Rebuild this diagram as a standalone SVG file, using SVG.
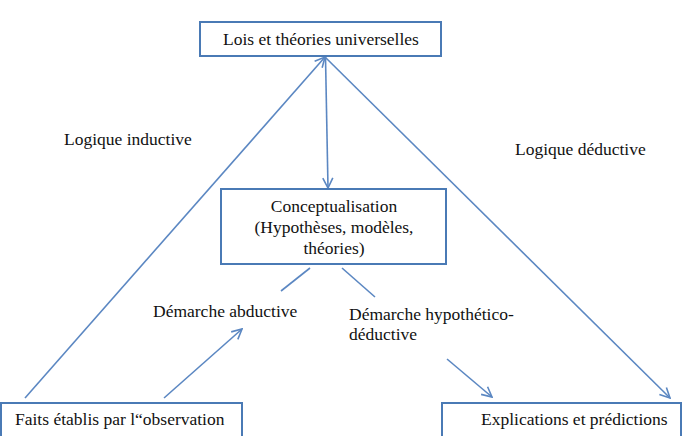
<svg xmlns="http://www.w3.org/2000/svg" width="696" height="436" viewBox="0 0 696 436">
<defs>
<marker id="a" viewBox="0 0 12 12" refX="11" refY="6" markerWidth="12" markerHeight="12" markerUnits="userSpaceOnUse" orient="auto">
<path d="M1,1 L11,6 L1,11" fill="none" stroke="#5b87c2" stroke-width="1.6"/>
</marker>
</defs>
<rect width="696" height="436" fill="#fff"/>
<g id="connectors" fill="none" stroke="#5b87c2" stroke-width="1.6">
<line x1="25" y1="398" x2="325" y2="57" marker-end="url(#a)"/>
<line x1="325" y1="57" x2="670" y2="398" marker-end="url(#a)"/>
<line x1="325.5" y1="57" x2="328" y2="188" marker-end="url(#a)"/>
<line x1="310" y1="268" x2="281" y2="291"/>
<line x1="342" y1="268" x2="375" y2="297"/>
<line x1="164" y1="398" x2="242" y2="329" marker-end="url(#a)"/>
<line x1="447" y1="359" x2="492" y2="397" marker-end="url(#a)"/>
</g>
<g font-family="Liberation Serif" font-size="17.5" fill="#111">
<g id="lois">
<rect x="200" y="22" width="241" height="34" fill="#fff" stroke="#4a7ab5" stroke-width="2"/>
<text x="321" y="45" text-anchor="middle">Lois et théories universelles</text>
</g>
<g id="conceptualisation">
<rect x="221" y="189" width="225" height="75" fill="#fff" stroke="#4a7ab5" stroke-width="2"/>
<text x="334" y="212" text-anchor="middle">Conceptualisation</text>
<text x="334" y="233" text-anchor="middle">(Hypothèses, modèles,</text>
<text x="334" y="254" text-anchor="middle">théories)</text>
</g>
<g id="faits">
<rect x="1" y="403" width="241" height="45" fill="#fff" stroke="#4a7ab5" stroke-width="2"/>
<text x="15" y="425">Faits établis par l“observation</text>
</g>
<g id="explications">
<rect x="442" y="403" width="239" height="45" fill="#fff" stroke="#4a7ab5" stroke-width="2"/>
<text x="481" y="425">Explications et prédictions</text>
</g>
<g id="labels">
<text x="64" y="145">Logique inductive</text>
<text x="515" y="155">Logique déductive</text>
<text x="153" y="317">Démarche abductive</text>
<text x="349" y="320">Démarche hypothético-</text>
<text x="349" y="340">déductive</text>
</g>
</g>
</svg>
